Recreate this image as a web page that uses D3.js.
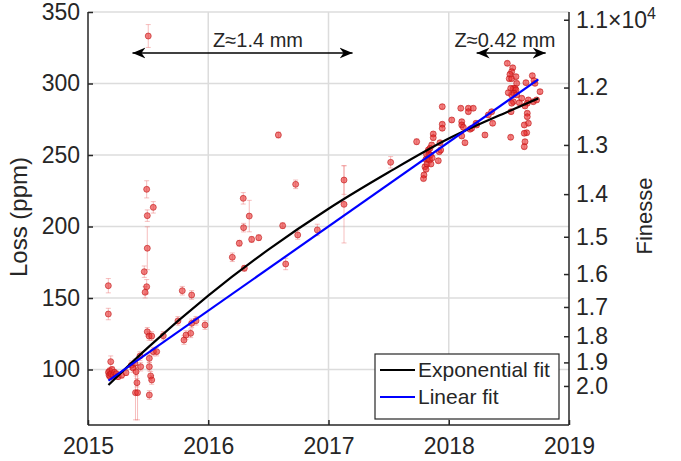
<!DOCTYPE html>
<html>
<head>
<meta charset="utf-8">
<script src="https://cdn.jsdelivr.net/npm/d3@7"></script>
<style>
  body { margin: 0; background: #fff; }
  text { font-family: "Liberation Sans", Arial, sans-serif; fill: #262626; }
</style>
</head>
<body>
<div id="chart"></div>
<script>
// measured data: decimal year, loss (ppm), error bar half-height (ppm)
var years = [
  2015.169, 2015.169, 2015.189, 2015.170, 2015.175, 2015.180, 2015.185, 2015.190, 2015.200, 2015.210,
  2015.220, 2015.235, 2015.250, 2015.280, 2015.316, 2015.360, 2015.375, 2015.390, 2015.400, 2015.407,
  2015.395, 2015.412, 2015.438, 2015.432, 2015.468, 2015.488, 2015.475, 2015.493, 2015.488, 2015.493,
  2015.543, 2015.493, 2015.508, 2015.530, 2015.510, 2015.510, 2015.521, 2015.530, 2015.510, 2015.543,
  2015.571, 2015.626, 2015.748, 2015.784, 2015.798, 2015.815, 2015.854, 2015.862, 2015.862, 2015.898,
  2015.973, 2015.501,
  2016.200, 2016.258, 2016.291, 2016.294, 2016.300, 2016.341, 2016.361, 2016.420, 2016.583, 2016.619,
  2016.644, 2016.727, 2016.744, 2016.907, 2017.129, 2017.129, 2017.517, 2017.733,
  2017.794, 2017.790, 2017.802, 2017.811, 2017.819, 2017.810, 2017.815, 2017.825, 2017.830, 2017.835,
  2017.840, 2017.844, 2017.848, 2017.852, 2017.858, 2017.862, 2017.871, 2017.871, 2017.913, 2017.921,
  2017.933, 2017.927, 2017.946, 2017.946, 2017.946,
  2018.025, 2018.100, 2018.108, 2018.108, 2018.121, 2018.108, 2018.135, 2018.163, 2018.163, 2018.177,
  2018.191, 2018.204, 2018.227, 2018.232, 2018.301, 2018.329, 2018.357, 2018.365,
  2018.487, 2018.532, 2018.523, 2018.509, 2018.503, 2018.523, 2018.559, 2018.565, 2018.537, 2018.551,
  2018.515, 2018.559, 2018.543, 2018.523, 2018.565, 2018.495, 2018.537, 2018.523, 2018.518, 2018.587,
  2018.607, 2018.642, 2018.695, 2018.717, 2018.709, 2018.759, 2018.662, 2018.653, 2018.703, 2018.731,
  2018.653, 2018.653, 2018.662, 2018.628, 2018.648, 2018.628, 2018.515, 2018.634, 2018.628, 2018.634
];
var loss = [
  158.6, 138.8, 105.5, 98, 96, 99, 95, 97, 100, 96,
  98, 97, 95, 96, 97.8, 103, 101, 104.3, 98.5, 90.8,
  83.8, 83.8, 102, 109.4, 168.4, 157.9, 154, 184.8, 226, 207.6,
  213.4, 126.4, 123.4, 123.4, 107.8, 102, 95.5, 92.7, 82.2, 112.5,
  112.5, 123.6, 134, 155.1, 120.6, 124.1, 125.3, 152.1, 132.3, 134.1,
  131.1, 333.2,
  178.5, 188.3, 219.7, 199.2, 170.8, 207.3, 191, 192.2, 264, 200.6,
  173.8, 229.5, 194.1, 197.6, 232.5, 215.5, 244.9, 259.3,
  236, 233.5, 241.8, 240, 243.7, 247, 250.6, 247.5, 253.5, 250.6,
  246.5, 254.7, 250, 243.7, 257, 248, 264.7, 262.1, 246, 252.3,
  253.5, 258.6, 271.5, 268.7, 283.8,
  274.5, 282.7, 273.3, 271, 269.4, 263.3, 258.6, 282.7, 280.3, 268,
  268.7, 282.7, 272.2, 271, 264, 278, 280.3, 272.2,
  314.1, 311, 308.3, 306.4, 303.4, 303.4, 304.8, 300.1, 296.6, 296.6,
  296.6, 295.5, 293.1, 292, 292, 293.6, 287.3, 286.2, 280.3, 286.6,
  289.7, 300.6, 305.5, 300.1, 302, 294.3, 288.5, 286.2, 287.3, 288.5,
  279.2, 276.8, 272.2, 271, 265.6, 265.2, 262.4, 259.3, 255.8, 284.3
];
var errs = [
  5, 4, 4, 2, 2, 2, 2, 2, 2, 2,
  2, 2, 2, 2, 2, 3, 3, 3, 3, 3,
  19, 19, 3, 3, 4, 5, 4, 15, 6, 4,
  4, 3, 3, 3, 3, 3, 3, 3, 3, 3,
  3, 3, 3, 3, 3, 3, 3, 3, 3, 3,
  3, 8,
  3, 2, 4, 3, 2, 11, 2, 2, 2, 2,
  4, 3, 3, 4, 10, 27, 4, 2
];

// fits
var expFitYears = [2015.17, 2015.5, 2016.0, 2016.5, 2017.0, 2017.5, 2018.0, 2018.5, 2018.745];
var expFitLoss = [89.2, 115.5, 151.7, 183.8, 212.4, 237.9, 261.5, 280.6, 289.6];
var linFitYears = [2015.17, 2018.745];
var linFitLoss = [92.2, 302.9];

var xTicks = [2015, 2016, 2017, 2018, 2019];
var yTicks = [100, 150, 200, 250, 300, 350];
var finesseTicks = [1.1, 1.2, 1.3, 1.4, 1.5, 1.6, 1.7, 1.8, 1.9, 2.0];

var width = 681, height = 461;
var pLeft = 88, pRight = 569, pTop = 12, pBottom = 425;

// finesse (x1e4) = C / (loss + B)
var C = 626, B = 224.5;

var svg = d3.select("#chart").append("svg")
    .attr("width", width)
    .attr("height", height);

var x = d3.scaleLinear().domain([2015, 2019]).range([pLeft, pRight]);
var y = d3.scaleLinear().domain([61.2, 350]).range([pBottom, pTop]);
var yInv = d3.scaleLinear()
    .domain([(61.2 + B) / C, (350 + B) / C])
    .range([pBottom, pTop]);

// grid
svg.append("g").selectAll("line")
  .data(xTicks.slice(1, -1))
  .enter().append("line")
    .attr("x1", function(d) { return x(d); })
    .attr("x2", function(d) { return x(d); })
    .attr("y1", pTop).attr("y2", pBottom)
    .attr("stroke", "#dcdcdc").attr("stroke-width", 1.5);
svg.append("g").selectAll("line")
  .data(yTicks)
  .enter().append("line")
    .attr("x1", pLeft).attr("x2", pRight)
    .attr("y1", function(d) { return y(d); })
    .attr("y2", function(d) { return y(d); })
    .attr("stroke", "#dcdcdc").attr("stroke-width", 1.5);

// error bars
var pts = years.map(function(d, i) { return { t: d, v: loss[i], e: errs[i] || 1.5 }; });

var eb = svg.append("g")
    .attr("stroke", "rgba(235,110,110,0.45)")
    .attr("stroke-width", 1);
eb.selectAll(".ev").data(pts).enter().append("line")
    .attr("x1", function(d) { return x(d.t); })
    .attr("x2", function(d) { return x(d.t); })
    .attr("y1", function(d) { return y(d.v - d.e); })
    .attr("y2", function(d) { return y(d.v + d.e); });
eb.selectAll(".ct").data(pts).enter().append("line")
    .attr("x1", function(d) { return x(d.t) - 2.5; })
    .attr("x2", function(d) { return x(d.t) + 2.5; })
    .attr("y1", function(d) { return y(d.v + d.e); })
    .attr("y2", function(d) { return y(d.v + d.e); });
eb.selectAll(".cb").data(pts).enter().append("line")
    .attr("x1", function(d) { return x(d.t) - 2.5; })
    .attr("x2", function(d) { return x(d.t) + 2.5; })
    .attr("y1", function(d) { return y(d.v - d.e); })
    .attr("y2", function(d) { return y(d.v - d.e); });

// points
svg.append("g").selectAll("circle")
  .data(pts)
  .enter().append("circle")
    .attr("cx", function(d) { return x(d.t); })
    .attr("cy", function(d) { return y(d.v); })
    .attr("r", 3)
    .attr("fill", "rgba(232,45,45,0.6)")
    .attr("stroke", "rgba(190,20,20,0.75)")
    .attr("stroke-width", 0.8);

// fit lines
var line = d3.line()
    .x(function(d) { return x(d[0]); })
    .y(function(d) { return y(d[1]); })
    .curve(d3.curveMonotoneX);

svg.append("path")
    .datum(expFitYears.map(function(d, i) { return [d, expFitLoss[i]]; }))
    .attr("d", line)
    .attr("fill", "none").attr("stroke", "#000").attr("stroke-width", 2.2);
svg.append("path")
    .datum(linFitYears.map(function(d, i) { return [d, linFitLoss[i]]; }))
    .attr("d", line)
    .attr("fill", "none").attr("stroke", "#0000ff").attr("stroke-width", 2.2);

// axes
var axisColor = "#262626";
function styleAxis(g) {
  g.select(".domain").attr("stroke", axisColor).attr("stroke-width", 1.5);
  g.selectAll(".tick line").attr("stroke", axisColor).attr("stroke-width", 1.5);
  g.selectAll(".tick text").style("font-size", "23px").attr("fill", axisColor);
}

svg.append("g")
    .attr("transform", "translate(0," + pBottom + ")")
    .call(d3.axisBottom(x).tickValues(xTicks).tickFormat(d3.format("d"))
      .tickSizeInner(-5).tickSizeOuter(0).tickPadding(13))
    .call(styleAxis)
    .call(function(g) { g.select(".domain").attr("d", "M" + pLeft + ",0H" + pRight); });

svg.append("g")
    .attr("transform", "translate(" + pLeft + ",0)")
    .call(d3.axisLeft(y).tickValues(yTicks)
      .tickSizeInner(-5).tickSizeOuter(0).tickPadding(8))
    .call(styleAxis)
    .call(function(g) { g.select(".domain").attr("d", "M0," + pTop + "V" + pBottom); });

var rAxis = svg.append("g")
    .attr("transform", "translate(" + pRight + ",0)")
    .call(d3.axisRight(yInv).tickValues(finesseTicks.map(function(f) { return 1 / f; }))
      .tickFormat(function(d) { return (1 / d).toFixed(1); })
      .tickSizeInner(-5).tickSizeOuter(0).tickPadding(7))
    .call(styleAxis)
    .call(function(g) { g.select(".domain").attr("d", "M0," + pTop + "V" + pBottom); });

// 1.1 x 10^4 label
rAxis.selectAll(".tick text").filter(function(d, i) { return i === 0; })
    .text(null)
    .call(function(t) {
      t.append("tspan").text("1.1\u00d710");
      t.append("tspan").text("4").attr("dy", "-0.55em").style("font-size", "16px");
    });

// axis titles
svg.append("text")
    .attr("transform", "translate(27,217) rotate(-90)")
    .attr("text-anchor", "middle")
    .style("font-size", "24px")
    .text("Loss (ppm)");

svg.append("text")
    .attr("transform", "translate(652,216) rotate(-90)")
    .attr("text-anchor", "middle")
    .style("font-size", "22px")
    .text("Finesse");

// annotation arrows
var defs = svg.append("defs");
defs.append("marker")
    .attr("id", "arr")
    .attr("viewBox", "0 -6 14 12")
    .attr("refX", 13).attr("refY", 0)
    .attr("markerWidth", 14).attr("markerHeight", 12)
    .attr("markerUnits", "userSpaceOnUse")
    .attr("orient", "auto-start-reverse")
  .append("path")
    .attr("d", "M0,-5.5L13,0L0,5.5L4,0Z")
    .attr("fill", "#000");

var arrows = [
  { a: 2015.37, b: 2017.2, v: 321.3, label: "Z\u22481.4 mm", lx: 2016.414 },
  { a: 2018.232, b: 2018.806, v: 321.3, label: "Z\u22480.42 mm", lx: 2018.468 }
];
arrows.forEach(function(d) {
  svg.append("line")
      .attr("x1", x(d.a)).attr("x2", x(d.b))
      .attr("y1", y(d.v)).attr("y2", y(d.v))
      .attr("stroke", "#000").attr("stroke-width", 1.5)
      .attr("marker-start", "url(#arr)")
      .attr("marker-end", "url(#arr)");
  svg.append("text")
      .attr("x", x(d.lx)).attr("y", y(325.5))
      .attr("text-anchor", "middle")
      .style("font-size", "20px")
      .attr("fill", "#000")
      .text(d.label);
});

// legend
var lg = svg.append("g").attr("transform", "translate(375,354)");
lg.append("rect")
    .attr("width", 184).attr("height", 65)
    .attr("fill", "#fff").attr("stroke", "#262626").attr("stroke-width", 1.2);
[["Exponential fit", "#000"], ["Linear fit", "#0000ff"]].forEach(function(d, i) {
  var yy = 16 + i * 27;
  lg.append("line")
      .attr("x1", 5).attr("x2", 40).attr("y1", yy).attr("y2", yy)
      .attr("stroke", d[1]).attr("stroke-width", 2.2);
  lg.append("text")
      .attr("x", 43).attr("y", yy).attr("dy", "0.35em")
      .style("font-size", "21px")
      .attr("fill", "#000")
      .text(d[0]);
});
</script>
</body>
</html>
